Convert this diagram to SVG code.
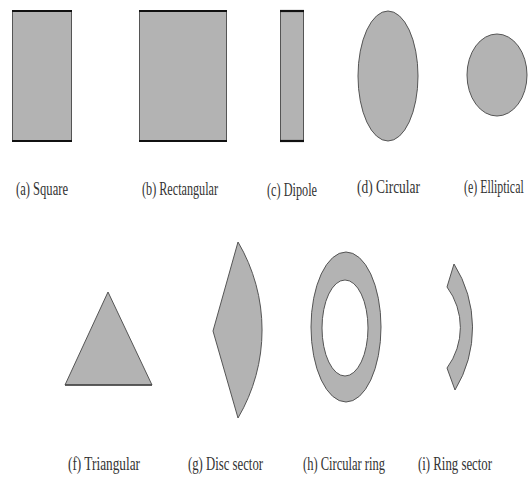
<svg xmlns="http://www.w3.org/2000/svg" width="528" height="481" viewBox="0 0 528 481">
<style>
.sh{fill:#b3b3b3;stroke:#555;stroke-width:1}
.edge{stroke:#111;stroke-width:2.2}
.lb{font-family:"Liberation Serif","Times New Roman",serif;font-size:18px;fill:#333}
</style>
<rect width="528" height="481" fill="#fff"/>
<g id="square">
<rect class="sh" x="12.5" y="11" width="59" height="130"/>
<line class="edge" x1="12" y1="11" x2="72" y2="11"/><line class="edge" x1="12" y1="141" x2="72" y2="141"/>
<text class="lb" x="16" y="195" textLength="52" lengthAdjust="spacingAndGlyphs">(a) Square</text>
</g>
<g id="rectangular">
<rect class="sh" x="139.5" y="11" width="87" height="130"/>
<line class="edge" x1="139" y1="11" x2="227" y2="11"/><line class="edge" x1="139" y1="141" x2="227" y2="141"/>
<text class="lb" x="142" y="195" textLength="76" lengthAdjust="spacingAndGlyphs">(b) Rectangular</text>
</g>
<g id="dipole">
<rect class="sh" x="280.5" y="11" width="23" height="130"/>
<line class="edge" x1="280" y1="11" x2="304" y2="11"/><line class="edge" x1="280" y1="141" x2="304" y2="141"/>
<text class="lb" x="267" y="196" textLength="50" lengthAdjust="spacingAndGlyphs">(c) Dipole</text>
</g>
<g id="circular">
<ellipse class="sh" cx="388" cy="76" rx="30" ry="65"/>
<text class="lb" x="357" y="193" textLength="63" lengthAdjust="spacingAndGlyphs">(d) Circular</text>
</g>
<g id="elliptical">
<ellipse class="sh" cx="497" cy="75" rx="30" ry="41"/>
<text class="lb" transform="translate(464,193) scale(0.66,1)" x="0" y="0">(e) Elliptical</text>
</g>
<g id="triangular">
<polygon class="sh" points="108,292 65,385 152,385"/>
<line x1="65" y1="385" x2="152" y2="385" stroke="#444" stroke-width="1.5"/>
<text class="lb" x="68" y="470" textLength="72" lengthAdjust="spacingAndGlyphs">(f) Triangular</text>
</g>
<g id="disc-sector">
<path class="sh" d="M238,242 A173,173 0 0 1 238,418 L213,331 Z"/>
<text class="lb" x="188" y="470" textLength="75" lengthAdjust="spacingAndGlyphs">(g) Disc sector</text>
</g>
<g id="circular-ring">
<path class="sh" fill-rule="evenodd" d="M311,327 A35,75 0 1 0 381,327 A35,75 0 1 0 311,327 Z M322,328 A23,48 0 1 0 368,328 A23,48 0 1 0 322,328 Z"/>
<text class="lb" x="303" y="470" textLength="82" lengthAdjust="spacingAndGlyphs">(h) Circular ring</text>
</g>
<g id="ring-sector">
<path class="sh" d="M454,264 A119,119 0 0 1 455,390 L447,368 A68,68 0 0 0 447,287 Z"/>
<text class="lb" x="418" y="470" textLength="74" lengthAdjust="spacingAndGlyphs">(i) Ring sector</text>
</g>
</svg>
